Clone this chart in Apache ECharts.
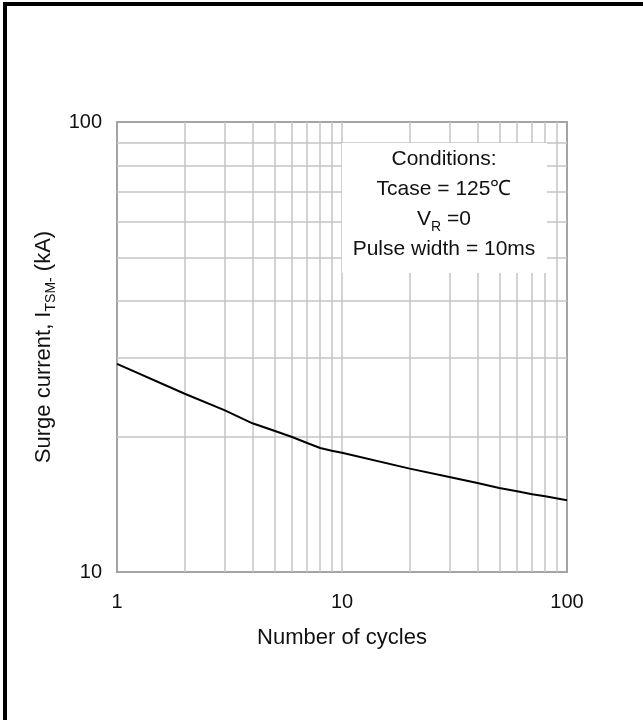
<!DOCTYPE html>
<html>
<head>
<meta charset="utf-8">
<script src="https://cdn.jsdelivr.net/npm/echarts@6/dist/echarts.min.js"></script>
<style>
  html, body { margin: 0; padding: 0; background: #fff; }
  #chart { position: absolute; left: 0; top: 0; width: 643px; height: 720px; }
  #frame { position: absolute; left: 3px; top: 2px; width: 640px; height: 718px;
           border-left: 4px solid #000; border-top: 4px solid #000; box-sizing: border-box; pointer-events: none; }
</style>
</head>
<body>
<div id="chart"></div>
<div id="frame"></div>
<script>
// Data
const cycles = [1, 2, 3, 4, 5, 6, 7, 8, 9, 10, 20, 30, 40, 50, 60, 70, 80, 100];
const surgeKA = [29.0, 24.9, 22.9, 21.4, 20.6, 19.95, 19.35, 18.86, 18.6, 18.4, 16.97, 16.26, 15.77, 15.37, 15.11, 14.88, 14.73, 14.43];
const xTicks = [1, 10, 100];
const yTicks = [10, 100];
const xGridValues = [2, 3, 4, 5, 6, 7, 8, 9, 10, 20, 30, 40, 50, 60, 70, 80, 90];
const yGridValues = [20, 30, 40, 50, 60, 70, 80, 90];
const conditionLines = ['Conditions:', 'Tcase = 125℃', 'V_R =0', 'Pulse width = 10ms'];

const FONT = '"Liberation Sans", Arial, sans-serif';
const gridColor = '#c4c4c4';

const chart = echarts.init(document.getElementById('chart'));

const markData = xGridValues.map(v => ({ xAxis: v })).concat(yGridValues.map(v => ({ yAxis: v })));

const condText = conditionLines.map(l => {
  if (l.indexOf('_') >= 0) {
    const [a, rest] = l.split('_');
    return '{m|' + a + '}{s|' + rest.charAt(0) + '}{m|' + rest.slice(1) + '}';
  }
  return '{m|' + l + '}';
}).join('\n');

chart.setOption({
  animation: false,
  backgroundColor: '#fff',
  grid: {
    left: 117, top: 122, right: 76, bottom: 148,
    show: true, borderColor: '#a4a4a4', borderWidth: 2, backgroundColor: 'transparent'
  },
  xAxis: {
    type: 'log', logBase: 10, min: xTicks[0], max: xTicks[xTicks.length - 1],
    name: 'Number of cycles', nameLocation: 'middle', nameGap: 55,
    nameTextStyle: { fontFamily: FONT, fontSize: 22, color: '#111' },
    axisLine: { show: false }, axisTick: { show: false },
    splitLine: { show: false },
    axisLabel: { fontFamily: FONT, fontSize: 20, color: '#111', margin: 20,
      formatter: v => xTicks.includes(Math.round(v)) ? String(Math.round(v)) : '' }
  },
  yAxis: {
    type: 'log', logBase: 10, min: yTicks[0], max: yTicks[yTicks.length - 1],
    name: '{m|Surge current, I}{s|TSM-}{m| (kA)}', nameLocation: 'middle', nameGap: 30,
    nameTextStyle: {
      fontFamily: FONT, fontSize: 22, color: '#111',
      rich: {
        m: { fontFamily: FONT, fontSize: 22, color: '#111', lineHeight: 28 },
        s: { fontFamily: FONT, fontSize: 14, color: '#111', lineHeight: 28, verticalAlign: 'bottom' }
      }
    },
    axisLine: { show: false }, axisTick: { show: false },
    splitLine: { show: false },
    axisLabel: { fontFamily: FONT, fontSize: 20, color: '#111', margin: 15,
      formatter: v => yTicks.includes(Math.round(v)) ? String(Math.round(v)) : '' }
  },
  series: [{
    type: 'line',
    data: cycles.map((c, i) => [c, surgeKA[i]]),
    showSymbol: false, symbol: 'none', smooth: false, z: 3,
    lineStyle: { color: '#000', width: 2 },
    markLine: {
      silent: true, symbol: ['none', 'none'], z: 1,
      label: { show: false },
      lineStyle: { type: 'solid', color: gridColor, width: 1.5 },
      emphasis: { disabled: true },
      data: markData
    }
  }],
  graphic: [{
    type: 'group', z: 20,
    children: [
      { type: 'rect', shape: { x: 342, y: 143, width: 205, height: 130 }, style: { fill: '#fff' }, z: 20 },
      { type: 'text', x: 444, y: 144, z: 21,
        style: {
          text: condText, align: 'center', verticalAlign: 'top',
          rich: {
            m: { fontFamily: FONT, fontSize: 21, fill: '#111', lineHeight: 30 },
            s: { fontFamily: FONT, fontSize: 14, fill: '#111', lineHeight: 30, verticalAlign: 'bottom' }
          }
        }
      }
    ]
  }]
});
</script>
</body>
</html>
